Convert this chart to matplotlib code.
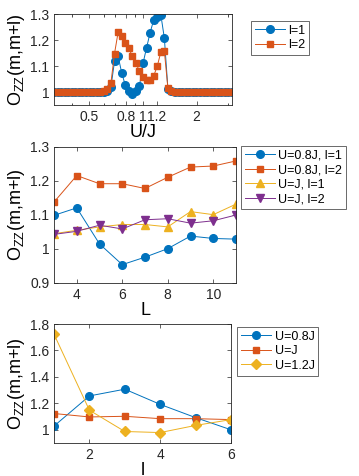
import numpy as np
import matplotlib
matplotlib.use("Agg")
import matplotlib.pyplot as plt
from matplotlib.ticker import FixedLocator, NullFormatter

plt.rcParams['font.family'] = ['Liberation Sans', 'DejaVu Sans']
plt.rcParams['mathtext.fontset'] = 'custom'
plt.rcParams['mathtext.rm'] = 'Liberation Sans'
plt.rcParams['mathtext.it'] = 'Liberation Sans'

BLUE = '#0072BD'
ORANGE = '#D95319'
YELLOW = '#EDB120'
PURPLE = '#7E2F8E'

# ---- panel 1 data: U/J sweep (log spaced) ----
u_over_j = np.logspace(-0.5, 0.5, 51)
ozz_l1 = [1.0]*15 + [1.005, 1.02, 1.118, 1.138, 1.075, 1.027, 1.003, 0.992, 1.005, 1.023,
                     1.11, 1.17, 1.228, 1.277, 1.29, 1.298, 1.207, 1.012, 1.004] + [1.0]*17
ozz_l2 = [1.0]*14 + [1.003, 1.01, 1.036, 1.148, 1.229, 1.214, 1.19, 1.168, 1.138, 1.112, 1.079,
                     1.057, 1.047, 1.047, 1.062, 1.099, 1.153, 1.157, 1.014, 1.005] + [1.0]*17
p1_xticks = [0.5, 0.8, 1, 1.2, 2]
p1_xticklabels = ['0.5', '0.8', '1', '1.2', '2']

# ---- panel 2 data: system size L ----
L_vals = [3, 4, 5, 6, 7, 8, 9, 10, 11]
u08_l1 = [1.099, 1.121, 1.015, 0.954, 0.976, 1.001, 1.038, 1.031, 1.029]
u08_l2 = [1.138, 1.216, 1.192, 1.192, 1.178, 1.211, 1.241, 1.244, 1.259]
u1_l1 = [1.045, 1.055, 1.065, 1.072, 1.072, 1.065, 1.110, 1.101, 1.132]
u1_l2 = [1.043, 1.052, 1.070, 1.059, 1.086, 1.089, 1.076, 1.083, 1.100]

# ---- panel 3 data: distance l ----
l_vals = [1, 2, 3, 4, 5, 6]
u08 = [1.028, 1.256, 1.307, 1.192, 1.092, 1.000]
u1 = [1.123, 1.097, 1.102, 1.084, 1.084, 1.077]
u12 = [1.723, 1.148, 0.987, 0.979, 1.033, 1.077]

W, H = 359, 476
fig = plt.figure(figsize=(W/100, H/100), dpi=100)

def ax_px(l, r, t, b):
    return fig.add_axes([l/W, 1-b/H, (r-l)/W, (b-t)/H])

ylab = r'O$_{\mathregular{ZZ}}$(m,m+l)'
TICK_FS = 10
LAB_FS = 13
LEG_FS = 9
lw = 0.7
ms = 5.5

def style(ax):
    ax.tick_params(direction='in', top=True, right=True, labelsize=TICK_FS,
                   length=3, width=0.5, color='#262626', labelcolor='#262626')
    ax.tick_params(which='minor', direction='in', top=True, right=True, length=1.8, width=0.5)
    for s in ax.spines.values():
        s.set_linewidth(0.6)
        s.set_color('#262626')

def legend(ax, bbox):
    l, t, r, b = bbox
    x0 = l/W
    lg = fig.legend(*ax.get_legend_handles_labels(), loc='upper left',
                    bbox_to_anchor=(x0, 1-t/H), bbox_transform=fig.transFigure,
                    fontsize=LEG_FS, frameon=True, fancybox=False, edgecolor='#262626',
                    handlelength=2.4, handletextpad=0.3, borderpad=0.3, labelspacing=0.2,
                    borderaxespad=0)
    lg.get_frame().set_linewidth(0.6)
    return lg

# Panel 1
ax1 = ax_px(54, 232, 14, 105)
ax1.plot(u_over_j, ozz_l1, '-o', color=BLUE, lw=lw, ms=ms, label='l=1')
ax1.plot(u_over_j, ozz_l2, '-s', color=ORANGE, lw=lw, ms=ms-0.5, label='l=2')
ax1.set_xscale('log')
ax1.set_xlim(10**-0.5, 10**0.5)
ax1.set_ylim(0.95, 1.3)
ax1.xaxis.set_major_locator(FixedLocator(p1_xticks))
ax1.set_xticklabels(p1_xticklabels)
ax1.xaxis.set_minor_locator(FixedLocator([0.4, 0.6, 0.7, 0.9, 3]))
ax1.xaxis.set_minor_formatter(NullFormatter())
ax1.set_yticks([1, 1.1, 1.2, 1.3])
ax1.set_yticklabels(['1', '1.1', '1.2', '1.3'])
ax1.set_xlabel('U/J', fontsize=LAB_FS, labelpad=0)
ax1.set_ylabel(ylab, fontsize=LAB_FS, labelpad=2)
style(ax1)
legend(ax1, (251, 21, 304, 61))

# Panel 2
ax2 = ax_px(54, 236, 147, 283)
ax2.plot(L_vals, u08_l1, '-o', color=BLUE, lw=lw, ms=ms, label='U=0.8J, l=1')
ax2.plot(L_vals, u08_l2, '-s', color=ORANGE, lw=lw, ms=ms-0.5, label='U=0.8J, l=2')
ax2.plot(L_vals, u1_l1, '-^', color=YELLOW, lw=lw, ms=ms, label='U=J, l=1')
ax2.plot(L_vals, u1_l2, '-v', color=PURPLE, lw=lw, ms=ms, label='U=J, l=2')
ax2.set_xlim(3, 11)
ax2.set_ylim(0.9, 1.3)
ax2.set_xticks([4, 6, 8, 10])
ax2.set_yticks([0.9, 1.0, 1.1, 1.2, 1.3])
ax2.set_yticklabels(['0.9', '1', '1.1', '1.2', '1.3'])
ax2.set_xlabel('L', fontsize=LAB_FS, labelpad=0)
ax2.set_ylabel(ylab, fontsize=LAB_FS, labelpad=2)
style(ax2)
legend(ax2, (241, 146, 358, 226))

# Panel 3
ax3 = ax_px(54, 231, 324, 443)
ax3.plot(l_vals, u08, '-o', color=BLUE, lw=lw, ms=ms, label='U=0.8J')
ax3.plot(l_vals, u1, '-s', color=ORANGE, lw=lw, ms=ms-0.5, label='U=J')
ax3.plot(l_vals, u12, '-D', color=YELLOW, lw=lw, ms=ms-0.5, label='U=1.2J')
ax3.set_xlim(1, 6)
ax3.set_ylim(0.9, 1.8)
ax3.set_xticks([2, 4, 6])
ax3.set_yticks([1, 1.2, 1.4, 1.6, 1.8])
ax3.set_yticklabels(['1', '1.2', '1.4', '1.6', '1.8'])
ax3.set_xlabel('l', fontsize=LAB_FS, labelpad=0)
ax3.set_ylabel(ylab, fontsize=LAB_FS, labelpad=2)
style(ax3)
legend(ax3, (237, 327, 324, 383))

fig.savefig('out.png', dpi=100)
